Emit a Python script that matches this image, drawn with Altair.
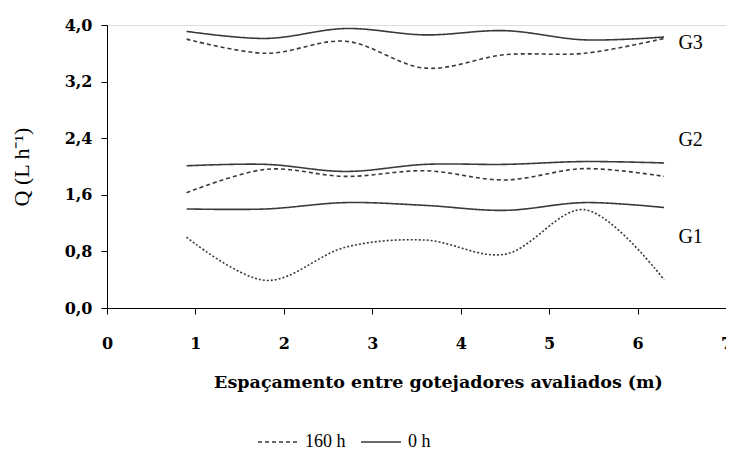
import altair as alt
import pandas as pd

x_pos = [0.9, 1.8, 2.7, 3.6, 4.5, 5.4, 6.3]
g1_0h = [1.40, 1.40, 1.49, 1.45, 1.38, 1.49, 1.42]
g1_160h = [1.00, 0.39, 0.86, 0.96, 0.76, 1.39, 0.40]
g2_0h = [2.01, 2.03, 1.93, 2.03, 2.03, 2.07, 2.05]
g2_160h = [1.63, 1.96, 1.86, 1.94, 1.81, 1.97, 1.86]
g3_0h = [3.91, 3.81, 3.95, 3.86, 3.92, 3.79, 3.83]
g3_160h = [3.80, 3.60, 3.77, 3.39, 3.58, 3.60, 3.81]

group_names = ["G1", "G2", "G3"]
label_x = [6.6, 6.6, 6.6]
label_y = [1.0, 2.37, 3.75]

series = {
    ("G1", "0 h"): g1_0h, ("G1", "160 h"): g1_160h,
    ("G2", "0 h"): g2_0h, ("G2", "160 h"): g2_160h,
    ("G3", "0 h"): g3_0h, ("G3", "160 h"): g3_160h,
}
rows = []
for (g, s), vals in series.items():
    for xv, yv in zip(x_pos, vals):
        rows.append({"x": xv, "q": yv, "grupo": g, "serie": s})
df = pd.DataFrame(rows)
lab = pd.DataFrame({"x": label_x, "q": label_y, "t": group_names})

FONT = "Liberation Serif"
BFONT = "DejaVu Serif"
COL = "#3a3a3a"

xs = alt.X("x:Q", scale=alt.Scale(domain=[0, 7], nice=False),
           axis=alt.Axis(values=[0, 1, 2, 3, 4, 5, 6, 7], format="d",
                         title="Espaçamento entre gotejadores avaliados (m)",
                         titleFontWeight="bold", titleFontSize=17.5, titlePadding=22,
                         titleX=331,
                         labelFontWeight="bold", labelFontSize=16, labelPadding=21,
                         labelFont=BFONT, titleFont=BFONT,
                         grid=False, domainColor="black", tickColor="black",
                         labelColor="black", titleColor="black", tickSize=6,
                         labelFlush=False))
ys = alt.Y("q:Q", scale=alt.Scale(domain=[0, 4], nice=False),
           axis=alt.Axis(values=[0, 0.8, 1.6, 2.4, 3.2, 4.0], format=".1f",
                         labelExpr="replace(datum.label, '.', ',')",
                         title="Q (L h⁻¹)", titleFontWeight="normal", titleFontSize=22,
                         titlePadding=31, labelFont=BFONT, titleFont=FONT,
                         labelFontWeight="bold", labelFontSize=16, labelPadding=9,
                         grid=False, domainColor="black", tickColor="black",
                         labelColor="black", titleColor="black", tickSize=6))

main = alt.Chart(df).transform_filter(
    "!(datum.grupo == 'G1' && datum.serie == '160 h')"
).mark_line(interpolate="catmull-rom", color=COL, strokeWidth=1.6).encode(
    x=xs, y=ys,
    detail="grupo:N",
    strokeDash=alt.StrokeDash("serie:N",
        scale=alt.Scale(domain=["160 h", "0 h"], range=[[4, 3], [1, 0]]),
        legend=alt.Legend(title=None, orient="none", legendX=150, legendY=396,
                          direction="horizontal", symbolType="stroke",
                          symbolSize=1600, symbolStrokeColor=COL, symbolStrokeWidth=1.5,
                          labelFont=FONT, labelFontSize=18, labelColor="black",
                          columnPadding=12, labelOffset=6)),
)

g1dash = alt.Chart(df).transform_filter(
    "datum.grupo == 'G1' && datum.serie == '160 h'"
).mark_line(interpolate="catmull-rom", color=COL, strokeWidth=1.6,
            strokeDash=[2, 2]).encode(x=xs, y=ys)

labels = alt.Chart(lab).mark_text(font=FONT, fontSize=20, color="black",
                                  align="center").encode(
    x=alt.X("x:Q"), y=alt.Y("q:Q"), text="t:N")

chart = alt.layer(main, g1dash, labels).properties(
    width=619, height=283,
    autosize=alt.AutoSizeParams(type="none"),
    padding={"left": 99, "top": 17, "right": 0, "bottom": 148},
).configure_view(stroke=None).configure(font=FONT)

chart.save("out.html", embed_options={"renderer": "svg", "actions": False})
